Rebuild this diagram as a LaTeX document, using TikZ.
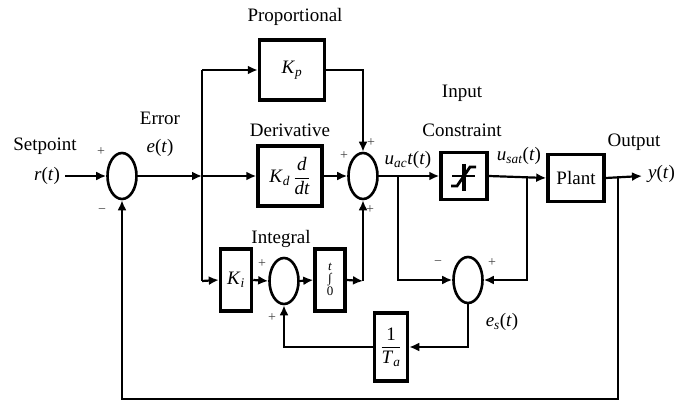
\documentclass[tikz,border=0pt]{standalone}
\usepackage{fontspec}
\setmainfont{Liberation Serif}
\usetikzlibrary{shapes.geometric, arrows.meta, positioning, calc}
\tikzset{
  blk/.style={rectangle, draw, line width=3.5pt, fill=white, inner sep=1pt},
  sumj/.style={ellipse, draw, line width=2.6pt, fill=white, inner sep=0pt,
              minimum width=29pt, minimum height=46pt},
  sig/.style={line width=2.2pt, -{Latex[length=10pt,width=9pt]}},
  wire/.style={line width=2.2pt},
  lbl/.style={inner sep=0pt},
  sgn/.style={font=\fontsize{14}{14}\selectfont, inner sep=0pt, text=black!75},
}
\newcommand{\vi}[1]{\textit{#1}}

\begin{document}
\begin{tikzpicture}[x=1pt, y=-1pt, every node/.style={font=\fontsize{19}{21}\selectfont}]
  \useasboundingbox (0,0) rectangle (683,401);
  % summing junctions
  \node[sumj] (s1) at (122,176) {};
  \node[sumj] (s2) at (363,176) {};
  \node[sumj] (si) at (284,281) {};
  \node[sumj] (s3) at (468,280) {};
  % blocks
  \node[blk, minimum width=65pt, minimum height=60pt] (kp) at (292,70) {\vi{K}\textsubscript{\vi{p}}};
  \node[blk, minimum width=64pt, minimum height=60pt] (kd) at (290,176) {\vi{K}\textsubscript{\vi{d}}\,$\displaystyle\frac{\vi{d}}{\vi{dt}}$};
  \node[blk, minimum width=31pt, minimum height=62pt] (ki) at (236,280) {\vi{K}\textsubscript{\vi{i}}};
  \node[blk, minimum width=30pt, minimum height=62pt, font=\fontsize{13}{14}\selectfont] (integ) at (330,280)
    {\begin{tabular}{@{}c@{}}\vi{t}\\[-2pt]∫\\[-1pt]0\end{tabular}};
  \node[blk, minimum width=46pt, minimum height=47pt] (sat) at (464,176) {};
  \node[blk, minimum width=56pt, minimum height=47pt] (plant) at (576,178) {Plant};
  \node[blk, minimum width=33pt, minimum height=68pt] (ta) at (391,347) {$\displaystyle\frac{\mbox{1}}{\mbox{\vi{T}\textsubscript{\vi{a}}}}$};
  % saturation sign
  \draw[line width=3.2pt] (464,164) -- (464,191);
  \draw[line width=2.6pt] (452,176) -- (475,176);
  \draw[line width=2.8pt] (451,186) -- (457,186) -- (470,167) -- (476,167);
  % branch points
  \coordinate (rin) at (65,176);
  \coordinate (j1) at (202,176);
  \coordinate (jp) at (202,70);
  \coordinate (jk) at (202,281);
  \coordinate (ji) at (363,281);
  \coordinate (ja) at (398,176);
  \coordinate (jb) at (527,176);
  \coordinate (jy) at (618,176);
  \coordinate (yout) at (642,176);
  \coordinate (bot) at (122,399);
  % connectors
  \draw[sig] (rin) -- (s1.west);
  \draw[sig] (s1.east) -- (j1);
  \draw[sig] (j1) -- (kd.west);
  \draw[wire] (jp) -- (jk);
  \draw[sig] (jp) -- (kp.west);
  \draw[sig] (jk) -- (ki.west);
  \draw[sig] (kp.east) -| (s2.north);
  \draw[sig] (kd.east) -- (s2.west);
  \draw[sig] (ki.east) -- (si.west);
  \draw[sig] (si.east) -- (integ.west);
  \draw[sig] (integ.east) -- (ji);
  \draw[sig] (ji) -- (s2.south);
  \draw[sig] (s2.east) -- (sat.west);
  \draw[sig] (ja) |- (s3.west);
  \draw[sig] (sat.east) -- (plant.west);
  \draw[sig] (jb) |- (s3.east);
  \draw[sig] (plant.east) -- (yout);
  \draw[sig] (jy) |- (bot) -- (s1.south);
  \draw[sig] (s3.south) |- (ta.east);
  \draw[sig] (ta.west) -| (si.south);
  % signs
  \node[sgn] (p1) at (101,152) {+};
  \node[sgn] (m1) at (102,211) {−};
  \node[sgn] (p2a) at (344,156) {+};
  \node[sgn] (p2b) at (371,143) {+};
  \node[sgn] (p2c) at (370,210) {+};
  \node[sgn] (p3a) at (262,264) {+};
  \node[sgn] (p3b) at (272,318) {+};
  \node[sgn] (m4) at (438,263) {−};
  \node[sgn] (p4) at (492,263) {+};
  % labels
  \node[lbl] (setp) at (45,146) {Setpoint};
  \node[lbl] (rt) at (47,176) {\vi{r}(\vi{t})};
  \node[lbl] (err) at (160,118) {Error};
  \node[lbl] (et) at (160,148) {\vi{e}(\vi{t})};
  \node[lbl] (prop) at (295,17) {Proportional};
  \node[lbl] (deriv) at (290,130) {Derivative};
  \node[lbl] (integral) at (281,239) {Integral};
  \node[lbl] (uac) at (408,160) {\vi{u}\textsubscript{\vi{ac}}\vi{t}(\vi{t})};
  \node[lbl] (inp) at (462,93) {Input};
  \node[lbl] (cons) at (462,130) {Constraint};
  \node[lbl] (usat) at (519,156) {\vi{u}\textsubscript{\vi{sat}}(\vi{t})};
  \node[lbl] (outp) at (634,142) {Output};
  \node[lbl, anchor=west] (yt) at (648,174) {\vi{y}(\vi{t})};
  \node[lbl] (est) at (502,322) {\vi{e}\textsubscript{\vi{s}}(\vi{t})};
\end{tikzpicture}
\end{document}
